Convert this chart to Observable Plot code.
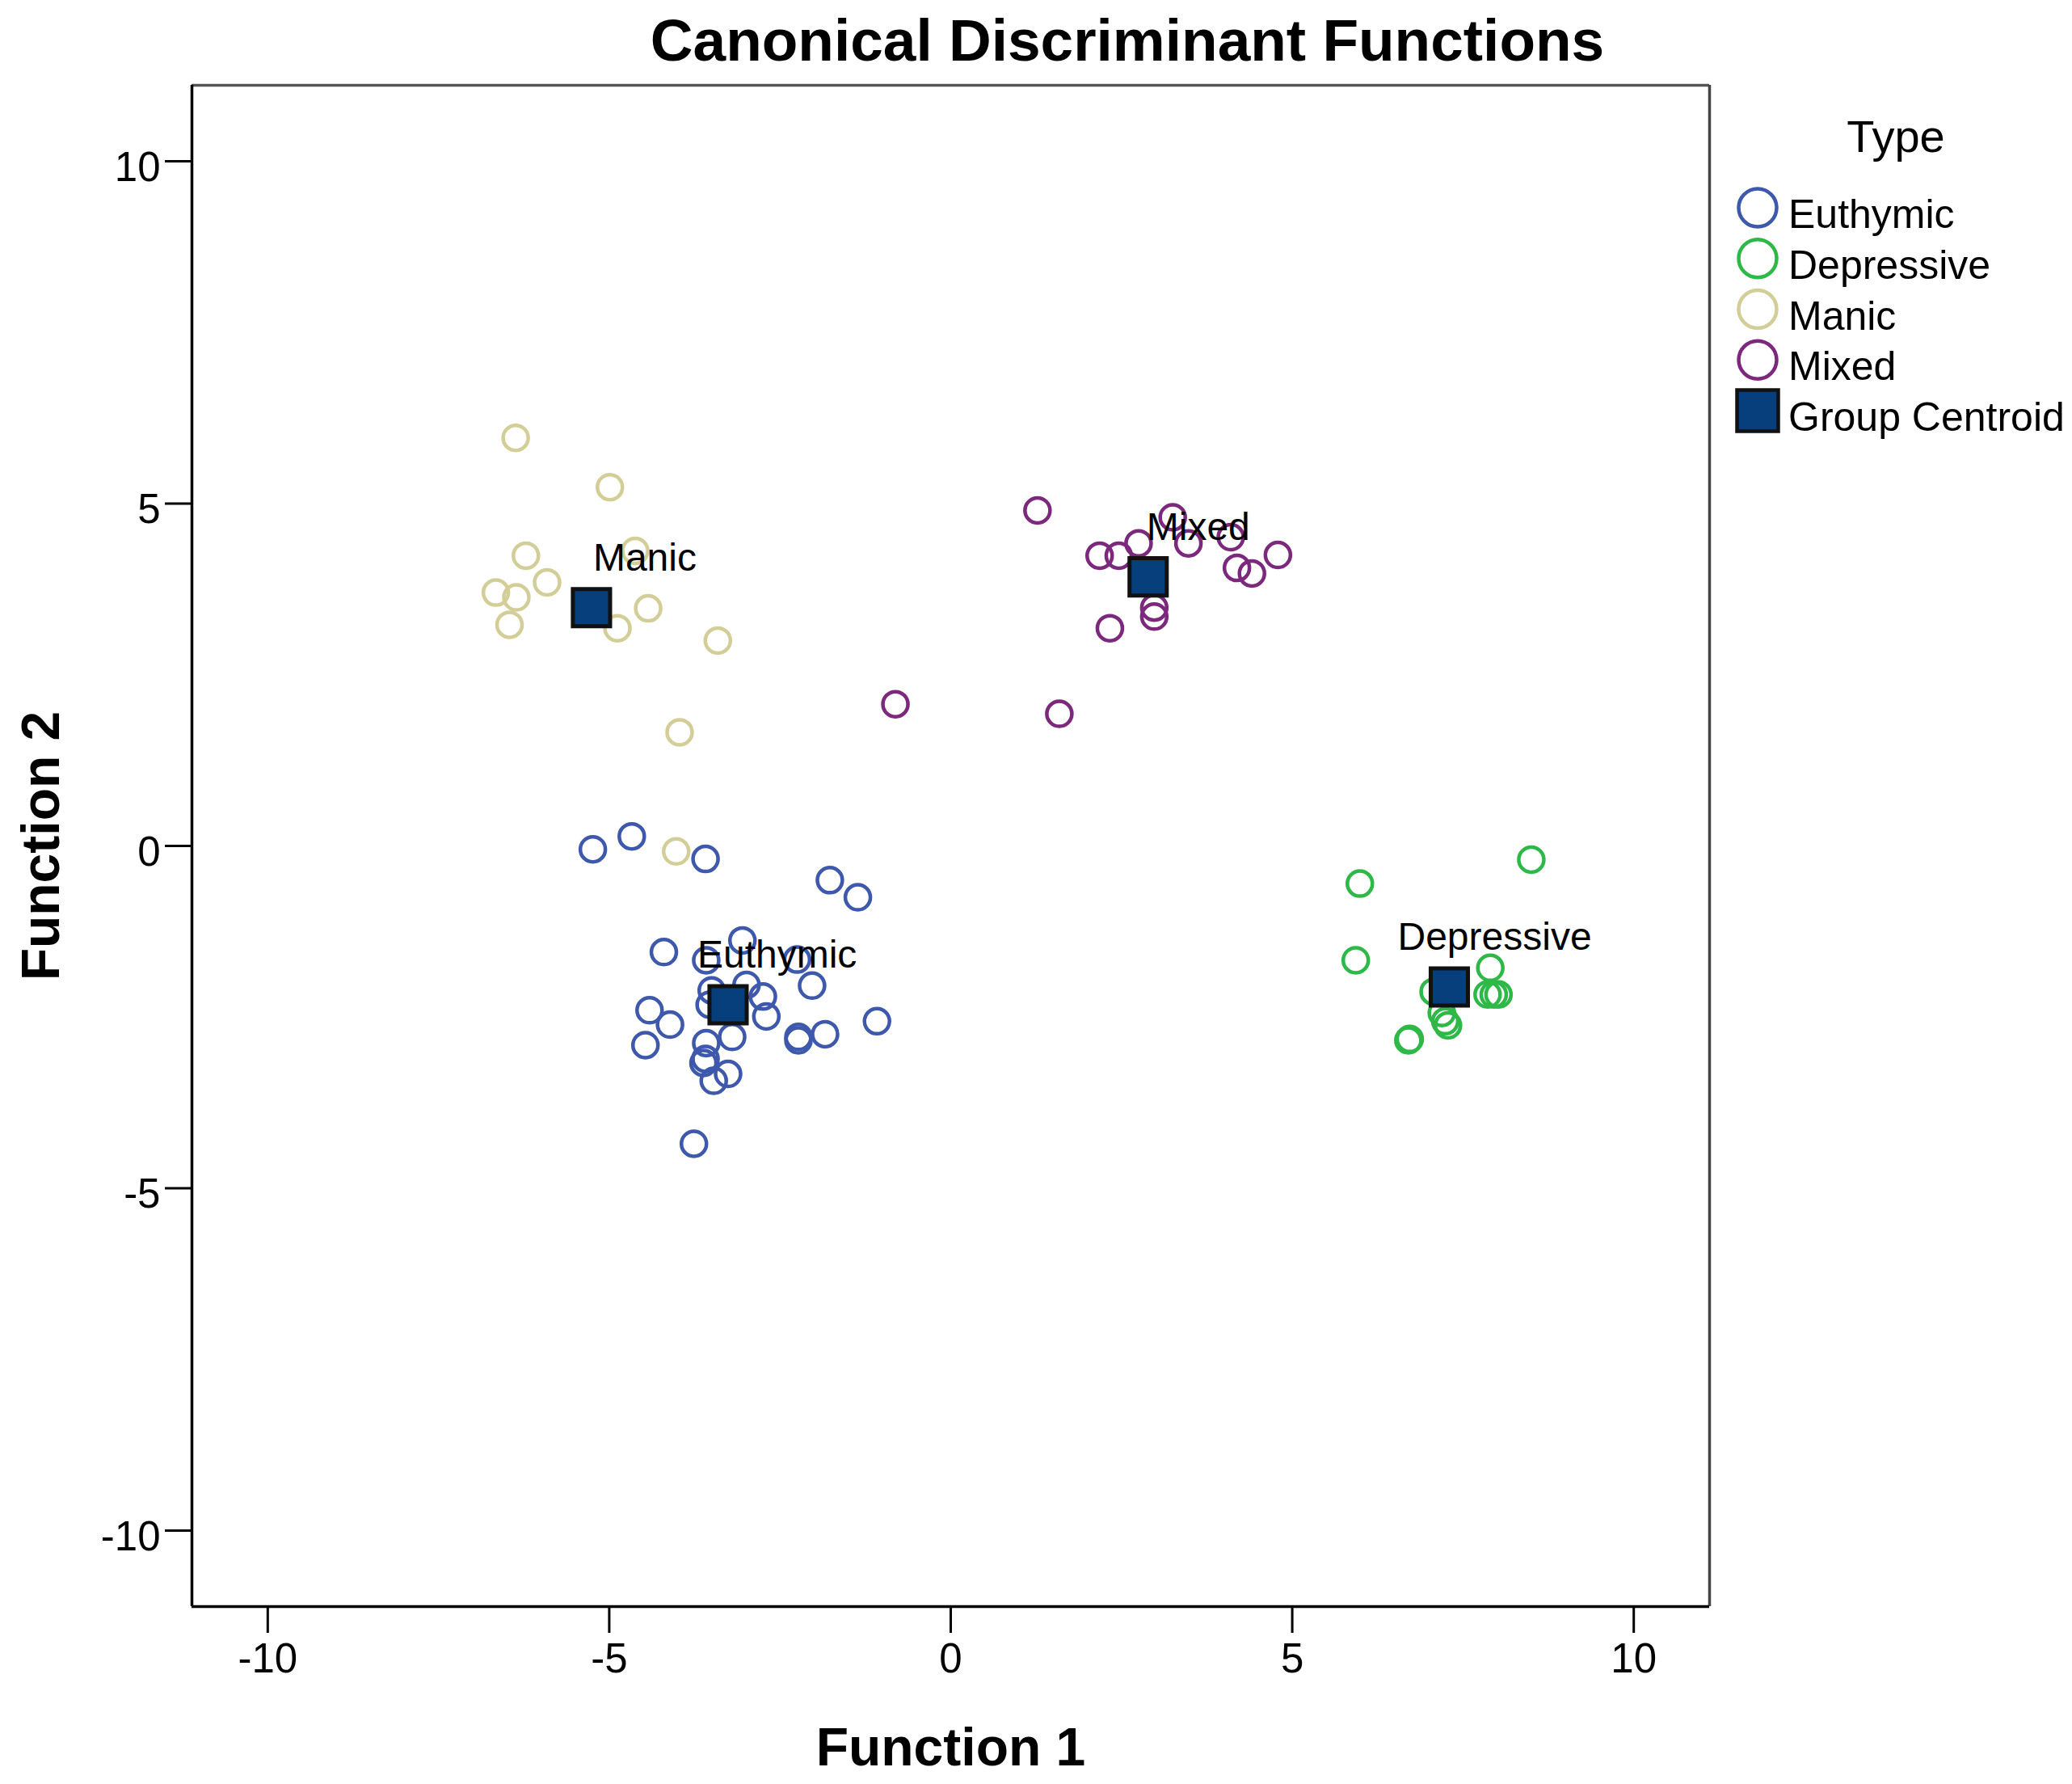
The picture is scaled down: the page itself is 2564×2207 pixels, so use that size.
<!DOCTYPE html>
<html>
<head>
<meta charset="utf-8">
<script src="https://cdn.jsdelivr.net/npm/d3@7"></script>
<script src="https://cdn.jsdelivr.net/npm/@observablehq/plot@0.6"></script>
<style>
  html, body { margin: 0; padding: 0; background: #fff; }
  #wrap { position: relative; width: 2564px; height: 2207px; font-family: "Liberation Sans", Arial, sans-serif; }
  #title { position: absolute; top: 13px; left: 1395px; transform: translateX(-50%); font-size: 73px; line-height: 1; font-weight: bold; white-space: nowrap; color: #000; }
  #chart { position: absolute; left: 0; top: 0; }
  #legend { position: absolute; left: 2130px; top: 120px; }
</style>
</head>
<body>
<div id="wrap">
  <div id="chart"></div>
  <div id="title">Canonical Discriminant Functions</div>
  <div id="legend"></div>
</div>
<script>
// ---- data ----
const groups = ["Euthymic", "Depressive", "Manic", "Mixed"];
const groupColors = ["#3E58AC", "#2EB848", "#D3CE97", "#7C287D"];

const euthymicX = [-5.24, -4.67, -3.59, -1.77, -1.36, -4.20, -3.05, -3.58, -2.25, -2.03, -3.50, -2.99, -2.75, -3.53, -2.70, -4.41, -4.11, -4.47, -3.20, -3.58, -3.59, -3.62, -3.26, -3.47, -2.23, -2.23, -1.84, -1.08, -3.76];
const euthymicY = [-0.05, 0.14, -0.19, -0.50, -0.75, -1.55, -1.38, -1.67, -1.66, -2.04, -2.11, -2.03, -2.20, -2.32, -2.49, -2.40, -2.61, -2.91, -2.79, -2.88, -3.11, -3.17, -3.33, -3.43, -2.79, -2.84, -2.75, -2.56, -4.35];

const depressiveX = [5.99, 8.50, 5.93, 7.90, 7.86, 8.02, 7.95, 7.07, 7.24, 7.28, 6.70, 7.19, 6.72];
const depressiveY = [-0.55, -0.20, -1.67, -1.78, -2.17, -2.17, -2.17, -2.13, -2.56, -2.62, -2.84, -2.44, -2.82];

const manicX = [-6.37, -4.99, -6.22, -4.62, -5.91, -6.66, -6.36, -6.46, -4.88, -4.43, -3.41, -3.97, -4.02];
const manicY = [5.96, 5.24, 4.24, 4.31, 3.85, 3.70, 3.63, 3.23, 3.18, 3.47, 3.00, 1.66, -0.08];

const mixedX = [1.27, 2.18, 2.46, 2.75, 3.25, 3.48, 4.10, 4.19, 4.41, 4.79, 2.98, 2.98, 2.33, 1.59, -0.81];
const mixedY = [4.90, 4.24, 4.24, 4.42, 4.80, 4.42, 4.51, 4.06, 3.98, 4.25, 3.48, 3.35, 3.18, 1.93, 2.07];

const centroidNames = ["Euthymic", "Depressive", "Manic", "Mixed"];
const centroidX = [-3.26, 7.30, -5.26, 2.89];
const centroidY = [-2.32, -2.06, 3.48, 3.93];

const xTicks = [-10, -5, 0, 5, 10];
const yTicks = [-10, -5, 0, 5, 10];
const xDomain = [-11.11, 11.11];
const yDomain = [-11.11, 11.11];

const legendLabels = ["Euthymic", "Depressive", "Manic", "Mixed", "Group Centroid"];

// ---- build tables ----
const seriesX = [euthymicX, depressiveX, manicX, mixedX];
const seriesY = [euthymicY, depressiveY, manicY, mixedY];
const points = [];
groups.forEach((g, gi) => {
  seriesX[gi].forEach((x, i) => points.push({group: g, x, y: seriesY[gi][i]}));
});
const centroids = centroidNames.map((n, i) => ({name: n, x: centroidX[i], y: centroidY[i]}));
const labelDx = {Euthymic: -38, Depressive: -64, Manic: 2, Mixed: -2};

const fmt = d => String(d);

const chart = Plot.plot({
  width: 2564,
  height: 2207,
  marginTop: 105,
  marginBottom: 220,
  marginLeft: 237,
  marginRight: 449,
  style: {fontFamily: '"Liberation Sans", Arial, sans-serif', background: "#fff", color: "#000"},
  x: {domain: xDomain},
  y: {domain: yDomain},
  color: {domain: groups, range: groupColors},
  marks: [
    Plot.axisX({ticks: xTicks, tickSize: 33, tickPadding: 12, fontSize: 51, tickFormat: fmt, strokeWidth: 3, label: null}),
    // y ticks (lines only)
    Plot.axisY({ticks: yTicks, tickSize: 33, tickFormat: () => "", strokeWidth: 3, label: null}),
    // y tick labels (text only, nudged down)
    Plot.axisY({ticks: yTicks, tickSize: 0, tickPadding: 39, fontSize: 51, tickFormat: fmt, dy: 8, label: null}),
    Plot.ruleY([yDomain[1]], {stroke: "#555", strokeWidth: 3.5}),
    Plot.ruleX([xDomain[1]], {stroke: "#444", strokeWidth: 3.5}),
    Plot.ruleX([xDomain[0]], {stroke: "#000", strokeWidth: 3.5}),
    Plot.ruleY([yDomain[0]], {stroke: "#000", strokeWidth: 3.5}),
    Plot.dot(points, {x: "x", y: "y", stroke: "group", r: 15.5, strokeWidth: 4.5, fill: "none"}),
    Plot.dot(centroids, {x: "x", y: "y", symbol: "square", r: 26, fill: "#063f7b", stroke: "#111", strokeWidth: 5}),
    ...centroids.map(c => Plot.text([c], {x: "x", y: "y", text: "name", textAnchor: "start", lineAnchor: "bottom", dy: -46, dx: labelDx[c.name], fontSize: 48, fill: "#000"})),
    Plot.text(["Function 1"], {frameAnchor: "bottom", textAnchor: "middle", lineAnchor: "bottom", dy: 196, fontSize: 66, fontWeight: "bold", fill: "#000"}),
    Plot.text(["Function 2"], {frameAnchor: "left", textAnchor: "middle", lineAnchor: "bottom", rotate: -90, dx: -165, fontSize: 66, fontWeight: "bold", fill: "#000"})
  ]
});
document.getElementById("chart").appendChild(chart);

// ---- legend ----
const lw = 434, lh = 430;
const lsvg = d3.select("#legend").append("svg")
  .attr("width", lw).attr("height", lh)
  .style("font-family", '"Liberation Sans", Arial, sans-serif');
// origin offset: page (2130,120)
lsvg.append("text").attr("x", 2346 - 2130).attr("y", 188 - 120)
  .attr("text-anchor", "middle").attr("font-size", 56).attr("fill", "#000").text("Type");
const rowY = d3.scaleLinear().domain([0, 4]).range([257 - 120, 508 - 120]);
legendLabels.forEach((lab, i) => {
  const cy = rowY(i), cx = 2175 - 2130;
  if (i < groups.length) {
    lsvg.append("circle").attr("cx", cx).attr("cy", cy).attr("r", 23.5)
      .attr("fill", "none").attr("stroke", groupColors[i]).attr("stroke-width", 4.5);
  } else {
    lsvg.append("rect").attr("x", cx - 25.5).attr("y", cy - 25.5).attr("width", 51).attr("height", 51)
      .attr("fill", "#063f7b").attr("stroke", "#111").attr("stroke-width", 4.5);
  }
  lsvg.append("text").attr("x", 2213 - 2130).attr("y", cy + 25)
    .attr("font-size", 50).attr("fill", "#000").text(lab);
});
</script>
</body>
</html>
